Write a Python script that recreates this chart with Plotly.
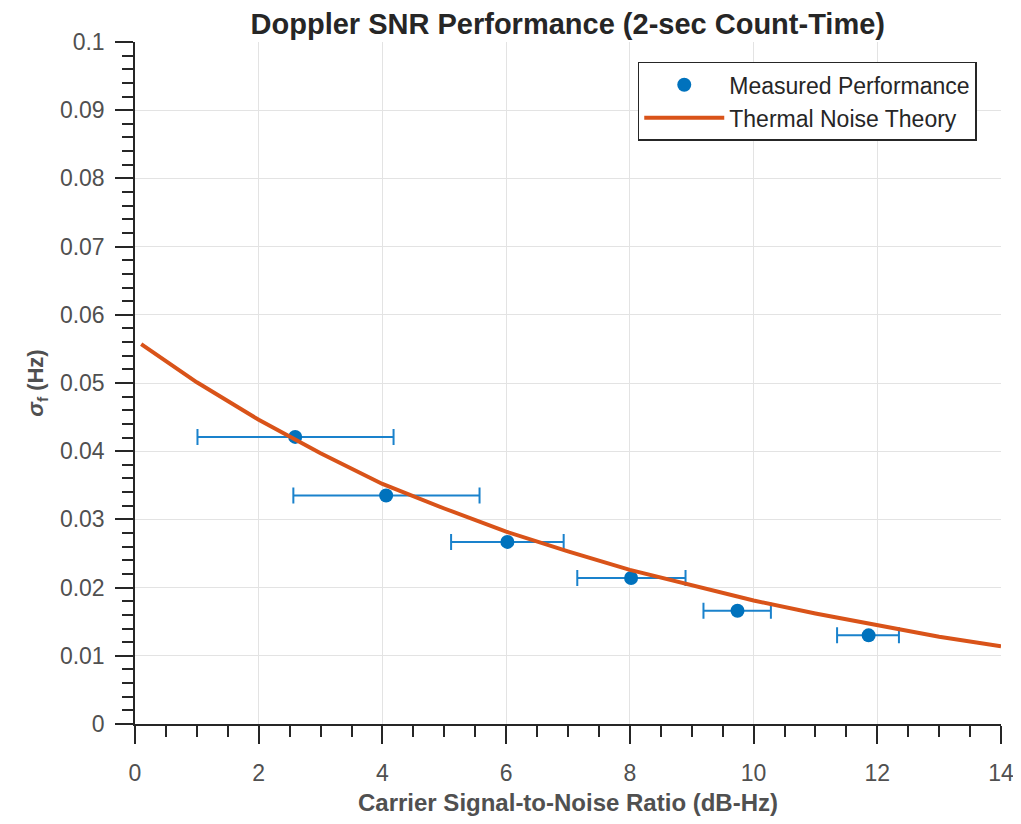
import plotly.graph_objects as go

# Measured performance
meas_x = [2.59, 4.06, 6.02, 8.02, 9.74, 11.86]
meas_y = [0.0421, 0.0335, 0.0267, 0.0214, 0.0166, 0.0130]
meas_x_lo = [1.01, 2.56, 5.11, 7.15, 9.19, 11.35]
meas_x_hi = [4.18, 5.57, 6.93, 8.90, 10.28, 12.35]

# Thermal noise theory curve
theory_x = [0.1, 1, 2, 3, 4, 5, 6, 7, 8, 9, 10, 11, 12, 13, 14]
theory_y = [0.0557, 0.0501, 0.0446, 0.0397, 0.0352, 0.0316, 0.0282, 0.0253,
            0.0226, 0.0203, 0.0181, 0.0162, 0.0145, 0.0128, 0.0114]

y_ticks = [0, 0.01, 0.02, 0.03, 0.04, 0.05, 0.06, 0.07, 0.08, 0.09, 0.1]
y_ticktext = ["0", "0.01", "0.02", "0.03", "0.04", "0.05", "0.06", "0.07", "0.08", "0.09", "0.1"]
x_ticks = [0, 2, 4, 6, 8, 10, 12, 14]

err_plus = [h - x for h, x in zip(meas_x_hi, meas_x)]
err_minus = [x - l for l, x in zip(meas_x_lo, meas_x)]

FONT = "Liberation Sans, Arial, Helvetica, sans-serif"
BLUE = "#0072BD"
ORANGE = "#D95319"

fig = go.Figure()
fig.add_trace(go.Scatter(
    x=meas_x, y=meas_y, mode="markers", name="Measured Performance",
    marker=dict(color=BLUE, size=14),
    error_x=dict(type="data", symmetric=False, array=err_plus, arrayminus=err_minus,
                 color="#1a82cc", thickness=2, width=8),
))
fig.add_trace(go.Scatter(
    x=theory_x, y=theory_y, mode="lines", name="Thermal Noise Theory",
    line=dict(color=ORANGE, width=4),
))

axis_common = dict(
    showline=True, linecolor="#262626", linewidth=1.5, mirror=False,
    ticks="outside", ticklen=18, tickwidth=1.5, tickcolor="#262626",
    showgrid=True, gridcolor="#e3e3e3", gridwidth=1, zeroline=False,
    tickfont=dict(family=FONT, size=23, color="#505050"),
    ticklabeloverflow="allow", automargin=False,
)

fig.update_xaxes(
    range=[0, 14], tickvals=x_ticks, ticklabelstandoff=10,
    minor=dict(ticks="outside", dtick=0.5, ticklen=11, tickwidth=1.5,
               tickcolor="#262626", showgrid=False),
    title=dict(text="<b>Carrier Signal-to-Noise Ratio (dB-Hz)</b>",
               font=dict(family=FONT, size=24, color="#505050"), standoff=20),
    **axis_common,
)
fig.update_yaxes(
    range=[0, 0.1], tickvals=y_ticks, ticktext=y_ticktext, ticklabelstandoff=6,
    minor=dict(ticks="outside", dtick=0.002, tick0=0, ticklen=11, tickwidth=1.5,
               tickcolor="#262626", showgrid=False),
    title=dict(text="<b><i>σ</i><sub>f</sub> (Hz)</b>",
               font=dict(family=FONT, size=22, color="#505050"), standoff=10),
    **axis_common,
)

fig.update_layout(
    width=1005, height=808,
    margin=dict(l=127, r=12, t=34, b=92),
    paper_bgcolor="white", plot_bgcolor="white",
    title=dict(text="<b>Doppler SNR Performance (2-sec Count-Time)</b>",
               font=dict(family=FONT, size=29, color="#262626"),
               x=0.557, xanchor="center", y=0.981, yanchor="middle"),
    legend=dict(x=0.972, y=0.971, xanchor="right", yanchor="top",
                bgcolor="white", bordercolor="#262626", borderwidth=1.5,
                font=dict(family=FONT, size=23, color="#262626"),
                itemwidth=80, tracegroupgap=0),
    showlegend=True,
)

fig.write_html("out.html")
